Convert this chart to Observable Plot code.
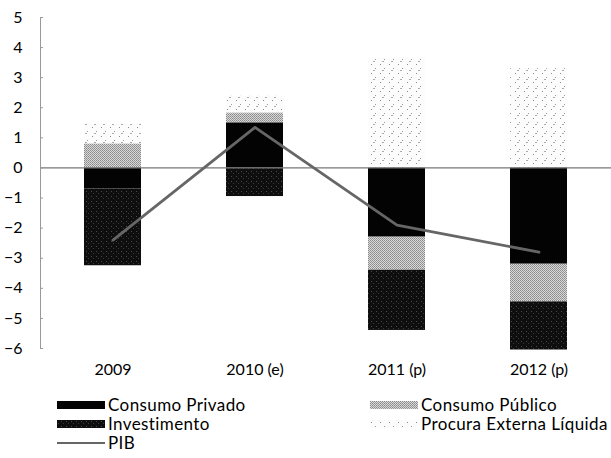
<!DOCTYPE html>
<html>
<head>
<meta charset="utf-8">
<script src="https://cdn.jsdelivr.net/npm/d3@7"></script>
<script src="https://cdn.jsdelivr.net/npm/@observablehq/plot@0.6"></script>
<style>
  body { margin: 0; background: #fff; }
  #wrap { position: relative; width: 611px; height: 458px; font-family: Lato, "Open Sans", sans-serif; }
  #legend { position: absolute; left: 0; top: 385px; }
</style>
</head>
<body>
<div id="wrap"><div id="chart"></div><svg id="legend" width="611" height="73"></svg></div>
<script>
// Data (contributions, p.p.)
const years = ["2009", "2010 (e)", "2011 (p)", "2012 (p)"];
const seriesNames = ["Consumo Privado", "Consumo Público", "Investimento", "Procura Externa Líquida"];
const consumoPrivado = [-0.7, 1.5, -2.3, -3.2];
const consumoPublico = [0.8, 0.33, -1.1, -1.25];
const investimento = [-2.55, -0.95, -2.0, -1.6];
const procuraExterna = [0.65, 0.55, 3.65, 3.3];
const pib = [-2.4, 1.35, -1.9, -2.8];
const yTicks = [5, 4, 3, 2, 1, 0, -1, -2, -3, -4, -5, -6];

const seriesValues = [consumoPrivado, consumoPublico, investimento, procuraExterna];
const bars = [];
seriesNames.forEach((s, i) => years.forEach((y, j) => bars.push({year: y, series: s, value: seriesValues[i][j]})));
const pibData = years.map((y, j) => ({year: y, value: pib[j]}));

const fills = ["#030303", "url(#pCPub)", "url(#pInv)", "url(#pPEL)"];

const chart = Plot.plot({
  width: 611,
  height: 385,
  marginLeft: 40,
  marginRight: 0,
  marginTop: 17,
  marginBottom: 37,
  style: {fontFamily: "Lato, 'Open Sans', sans-serif", fontSize: "16px", color: "#000", background: "#fff"},
  x: {domain: years, paddingInner: 0.6, paddingOuter: 0.3, label: null},
  y: {domain: [-6, 5], label: null},
  color: {domain: seriesNames, range: fills},
  marks: [
    Plot.barY(bars, Plot.stackY({x: "year", y: "value", fill: "series", order: seriesNames})),
    Plot.ruleY([0], {stroke: "#777", strokeWidth: 1.2}),
    Plot.frame({anchor: "left", stroke: "#999"}),
    Plot.line(pibData, {x: "year", y: "value", stroke: "#666", strokeWidth: 2.8}),
    Plot.axisY(yTicks, {tickSize: -3, tickPadding: 21, fontSize: 16, stroke: "#999"}),
    Plot.axisX({tickSize: 0, tickPadding: 15, fontSize: 16})
  ]
});

// patterns to imitate the scanned textures
const defs = d3.select(chart).insert("defs", ":first-child");
const pc = defs.append("pattern").attr("id", "pCPub").attr("patternUnits", "userSpaceOnUse").attr("width", 2).attr("height", 2);
pc.append("rect").attr("width", 2).attr("height", 2).attr("fill", "#d8d8d8");
pc.append("rect").attr("width", 1).attr("height", 1).attr("fill", "#8a8a8a");
pc.append("rect").attr("x", 1).attr("y", 1).attr("width", 1).attr("height", 1).attr("fill", "#9a9a9a");
const pi = defs.append("pattern").attr("id", "pInv").attr("patternUnits", "userSpaceOnUse").attr("width", 5).attr("height", 5);
pi.append("rect").attr("width", 5).attr("height", 5).attr("fill", "#0e0e0e");
pi.append("rect").attr("x", 1).attr("y", 1).attr("width", 1).attr("height", 1).attr("fill", "#4a4a4a");
pi.append("rect").attr("x", 3).attr("y", 3).attr("width", 1).attr("height", 1).attr("fill", "#3a3a3a");
const pp = defs.append("pattern").attr("id", "pPEL").attr("patternUnits", "userSpaceOnUse").attr("width", 9).attr("height", 9);
pp.append("rect").attr("width", 9).attr("height", 9).attr("fill", "#fcfcfc");
pp.append("rect").attr("x", 2).attr("y", 1).attr("width", 1).attr("height", 1).attr("fill", "#888");
pp.append("rect").attr("x", 6).attr("y", 5).attr("width", 1).attr("height", 1).attr("fill", "#999");
pp.append("rect").attr("x", 4).attr("y", 7).attr("width", 2).attr("height", 1).attr("fill", "#aaa");

document.getElementById("chart").appendChild(chart);

// legend
const lg = d3.select("#legend").style("font-family", "Lato, 'Open Sans', sans-serif").style("font-size", "17px");
const legendItems = [
  {label: seriesNames[0], fill: fills[0], x: 57, y: 20},
  {label: seriesNames[1], fill: fills[1], x: 370, y: 20},
  {label: seriesNames[2], fill: fills[2], x: 57, y: 39},
  {label: seriesNames[3], fill: fills[3], x: 370, y: 39}
];
legendItems.forEach(d => {
  lg.append("rect").attr("x", d.x).attr("y", d.y - 4).attr("width", 48).attr("height", 8).attr("fill", d.fill);
  lg.append("text").attr("x", d.x + 51).attr("y", d.y).attr("dy", "0.35em").attr("fill", "#000").attr("letter-spacing", "0.4px").text(d.label);
});
lg.append("line").attr("x1", 57).attr("x2", 105).attr("y1", 58).attr("y2", 58).attr("stroke", "#666").attr("stroke-width", 2);
lg.append("text").attr("x", 108).attr("y", 58).attr("dy", "0.35em").attr("fill", "#000").attr("letter-spacing", "0.4px").text("PIB");
</script>
</body>
</html>
